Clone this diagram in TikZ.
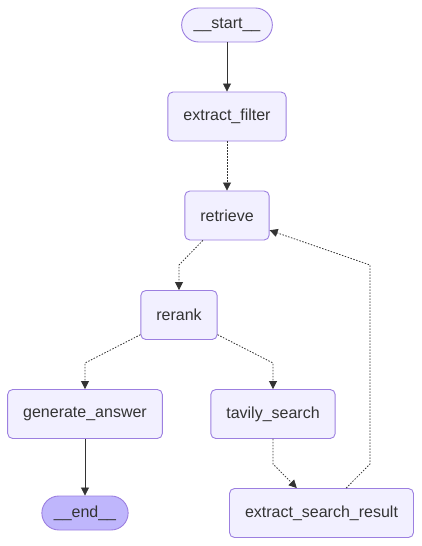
\documentclass[tikz,border=0pt]{standalone}
\usepackage{fontspec}
\setmainfont{Liberation Sans}
\usetikzlibrary{arrows.meta}
\definecolor{nodefill}{HTML}{F2F0FF}
\definecolor{nodeline}{HTML}{9C7FE0}
\definecolor{endfill}{HTML}{BFB6FC}
\definecolor{ink}{HTML}{333333}
\begin{document}
\begin{tikzpicture}[x=1pt, y=-1pt,
  every node/.style={font=\fontsize{16}{19}\selectfont, text=ink},
  box/.style={rectangle, rounded corners=5pt, draw=nodeline, fill=nodefill, line width=0.9pt, minimum height=49pt, inner xsep=15.5pt},
  pill/.style={rectangle, rounded corners=17pt, draw=nodeline, fill=nodefill, line width=0.9pt, minimum height=34pt, inner xsep=12pt},
  flow/.style={draw=ink, line width=0.8pt, -{Triangle[length=8pt,width=8pt]}},
  flowdot/.style={flow, dash pattern=on 1.5pt off 1.5pt}]
\useasboundingbox (0,0) rectangle (421,546);
\node (start) at (227, 25) [pill] {\_\_start\_\_};
\node (filter) at (227, 116.5) [box] {extract\_filter};
\node (retrieve) at (227, 215.5) [box] {retrieve};
\node (rerank) at (179, 315) [box] {rerank};
\node (answer) at (85, 414) [box] {generate\_answer};
\node (tavily) at (273, 414) [box] {tavily\_search};
\node (end) at (85, 513) [pill, fill=endfill] {\_\_end\_\_};
\node (result) at (321.5, 513) [box] {extract\_search\_result};

\draw[flow] (start) to (filter);
\draw[flowdot] (filter) to (retrieve);
\draw[flowdot] (retrieve) -- (179, 265) -- (rerank);
\draw[flowdot] (rerank) -- (85, 363) -- (answer);
\draw[flowdot] (rerank) -- (273, 363) -- (tavily);
\draw[flow] (answer) to (end);
\draw[flowdot] (tavily) -- (273, 464) -- (result);
\draw[flowdot] (result) -- (370, 464) -- (370, 265) -- (retrieve);
\end{tikzpicture}
\end{document}
